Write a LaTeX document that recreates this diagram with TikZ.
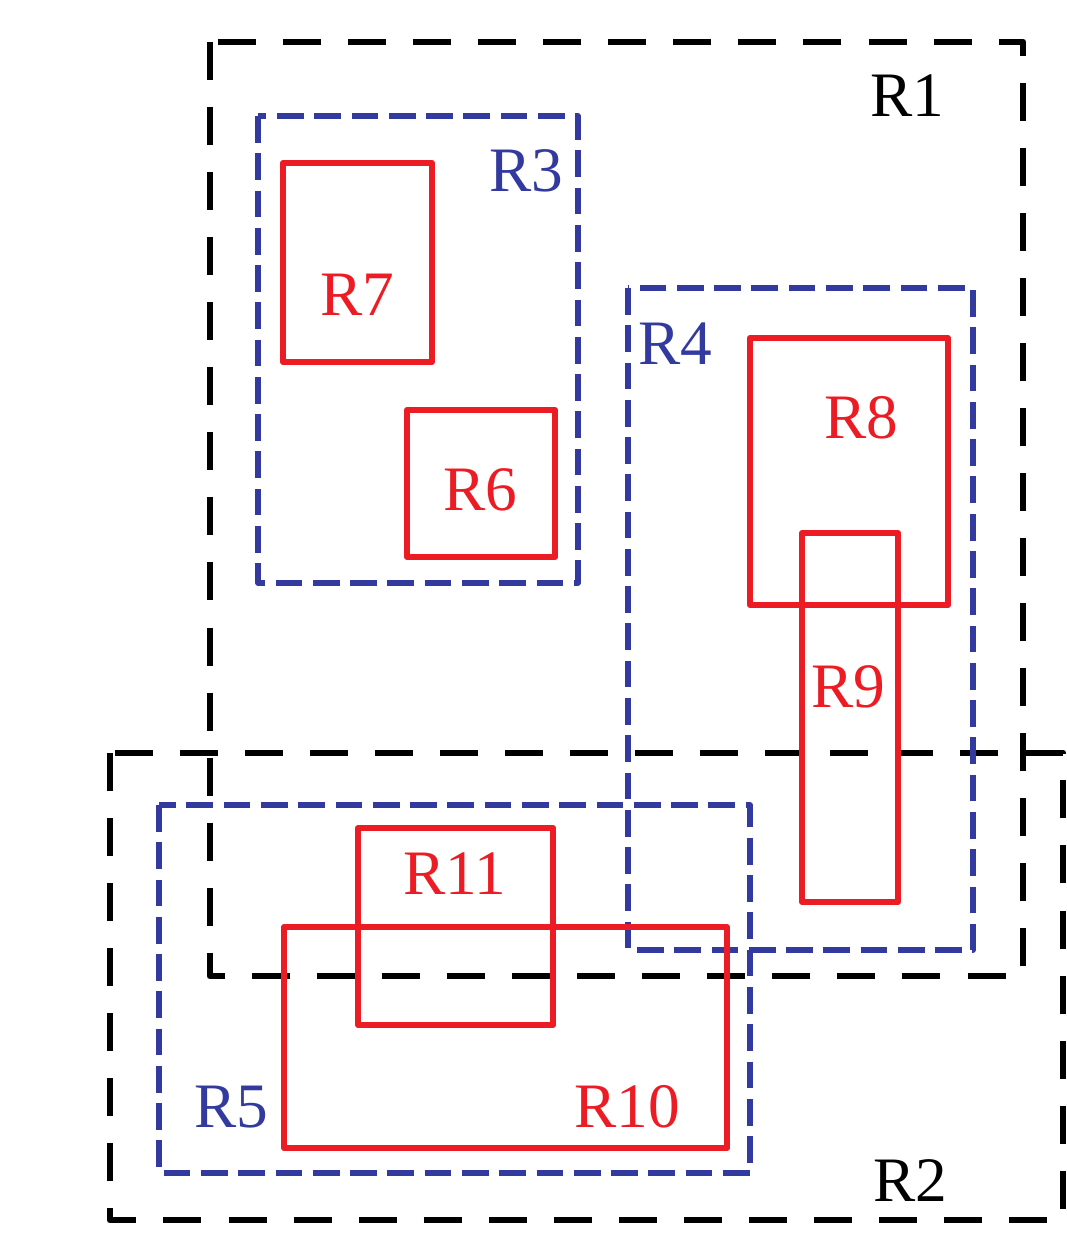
\documentclass[tikz,border=0pt]{standalone}
\usepackage{fontspec}
\setmainfont{Liberation Serif}
\usetikzlibrary{positioning}
\definecolor{regblue}{RGB}{50,58,160}
\definecolor{regred}{RGB}{236,28,36}

\begin{document}
\begin{tikzpicture}[
    x=0.01cm,
    y=-0.01cm,
    line join=round,
    outerbox/.style={draw=black, line width=1.9pt, dash pattern=on 10.8pt off 7.7pt},
    midbox/.style={draw=regblue, line width=1.45pt, dash pattern=on 7.6pt off 3pt},
    leafbox/.style={draw=regred, line width=1.7pt},
    lbl/.style={inner sep=0pt, font=\fontsize{18}{20}\selectfont}
]

\useasboundingbox (0,0) rectangle (1066,1237);

% R1
\draw[outerbox]
    (210,42) rectangle (1023,976);

\node[lbl] (r1) at (907,96)
    {R1};

% R2
\draw[outerbox]
    (110,753) rectangle (1063,1220);

\node[lbl] (r2) at (910,1181)
    {R2};

% R3
\draw[midbox]
    (258,116) rectangle (578,583);

\node[lbl, text=regblue] (r3) at (526,171)
    {R3};

% R4
\draw[midbox]
    (628,288) rectangle (973,950);

\node[lbl, text=regblue] (r4) at (675,344)
    {R4};

% R5
\draw[midbox]
    (159,805) rectangle (750,1173);

\node[lbl, text=regblue] (r5) at (231,1107)
    {R5};

% R7
\draw[leafbox]
    (283,163) rectangle (432,362);

\node[lbl, text=regred] (r7) at (357,295)
    {R7};

% R6
\draw[leafbox]
    (407,410) rectangle (555,557);

\node[lbl, text=regred] (r6) at (480,490)
    {R6};

% R8
\draw[leafbox]
    (750,338) rectangle (948,605);

\node[lbl, text=regred] (r8) at (861,418)
    {R8};

% R9
\draw[leafbox]
    (802,533) rectangle (898,902);

\node[lbl, text=regred] (r9) at (848,687)
    {R9};

% R11
\draw[leafbox]
    (358,828) rectangle (553,1025);

\node[lbl, text=regred] (r11) at (455,874)
    {R11};

% R10
\draw[leafbox]
    (284,927) rectangle (727,1148);

\node[lbl, text=regred] (r10) at (627,1107)
    {R10};

\end{tikzpicture}
\end{document}
